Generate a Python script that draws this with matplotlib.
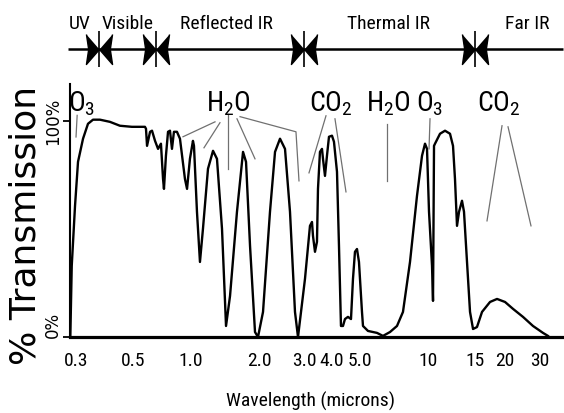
import numpy as np
import matplotlib
matplotlib.use("Agg")
import matplotlib.pyplot as plt
from matplotlib import font_manager as fm

# ---------------- data ----------------
wavelength = [0.28, 0.285, 0.2965, 0.307, 0.3246, 0.342, 0.3597, 0.384, 0.419, 0.454,
              0.496, 0.603, 0.612, 0.621, 0.647, 0.664, 0.690, 0.716, 0.741, 0.759,
              0.767, 0.784, 0.802, 0.819, 0.836, 0.853, 0.879, 0.905, 0.948, 0.966,
              0.991, 1.029, 1.044, 1.088, 1.132, 1.176, 1.25, 1.324, 1.382, 1.456,
              1.515, 1.574, 1.676, 1.765, 1.809, 1.868, 1.941, 1.985, 2.089, 2.244,
              2.356, 2.467, 2.578, 2.689, 2.8, 2.867, 3.036, 3.214, 3.286, 3.321,
              3.393, 3.464, 3.5, 3.571, 3.643, 3.679, 3.75, 3.821, 3.893, 4.0,
              4.071, 4.179, 4.25, 4.321, 4.393, 4.464, 4.571, 4.679, 4.75, 4.821,
              4.893, 4.964, 5.147, 5.221, 5.588, 6.25, 6.69, 7.206, 7.72, 8.16,
              8.676, 9.19, 9.559, 9.779, 9.926, 10.106, 10.426, 10.532, 10.638, 10.745,
              11.277, 11.809, 12.34, 12.66, 12.87, 13.085, 13.3, 13.617, 13.83, 14.15,
              14.47, 14.79, 15.33, 16.17, 17.5, 18.67, 20.0, 22.29, 25.14, 28.0,
              30.86, 32.29, 32.6]
transmission = [0.0, 32.9, 60.6, 81.0, 91.7, 98.6, 100.5, 100.5, 99.5, 97.7,
                97.2, 97.2, 96.3, 88.4, 94.9, 95.4, 90.7, 87.0, 89.4, 73.1,
                68.5, 83.8, 94.9, 95.4, 87.0, 94.9, 94.9, 91.7, 73.1, 68.5,
                82.4, 90.7, 88.4, 57.9, 34.7, 50.0, 77.8, 86.1, 82.4, 50.0,
                5.1, 19.0, 57.9, 85.6, 81.0, 42.1, 2.3, 0.0, 11.6, 57.9,
                85.6, 91.7, 87.0, 57.9, 11.6, 0.0, 26.9, 51.4, 53.2, 46.8,
                39.4, 44.0, 68.5, 85.6, 87.0, 82.4, 74.5, 83.8, 92.6, 93.1,
                90.3, 76.4, 42.1, 5.1, 5.1, 8.3, 9.3, 8.3, 26.9, 39.4,
                40.7, 34.7, 11.6, 5.1, 2.8, 1.9, 0.5, 2.3, 5.1, 11.6,
                34.7, 65.3, 83.8, 89.4, 87.0, 57.9, 32.9, 16.7, 88.4, 89.4,
                94.0, 95.4, 94.0, 88.4, 73.1, 51.4, 57.9, 63.0, 57.9, 34.7,
                11.6, 3.7, 4.6, 11.6, 16.2, 17.6, 16.2, 13.0, 9.3, 5.1,
                1.9, 0.5, 0.0]

tick_values = [0.3, 0.5, 1.0, 2.0, 3.0, 4.0, 5.0, 10, 15, 20, 30]
tick_labels = ["0.3", "0.5", "1.0", "2.0", "3.0", "4.0", "5.0", "10", "15", "20", "30"]

band_names = ["UV", "Visible", "Reflected IR", "Thermal IR", "Far IR"]
band_centers = [0.314, 0.482, 1.515, 7.13, 26.3]
band_edges = [0.38, 0.7, 3.0, 15.0]

molecules = ["O$_3$", "H$_2$O", "CO$_2$", "H$_2$O", "O$_3$", "CO$_2$"]
molecule_x = [0.321, 1.544, 3.96, 7.06, 10.21, 19.0]
molecule_baseline = 104.6

leader_lines = [
    [(0.304, 102.5), (0.300, 92.5)],
    [(1.353, 99.5), (0.931, 92.6)],
    [(1.426, 99.1), (1.191, 87.5)],
    [(1.544, 103.2), (1.544, 77.8)],
    [(1.676, 100.9), (1.941, 82.4)],
    [(1.721, 101.9), (2.822, 94.9), (2.889, 72.2)],
    [(3.786, 102.3), (3.179, 75.9)],
    [(4.107, 100.9), (4.5, 67.1)],
    [(6.985, 98.6), (6.985, 72.2)],
    [(10.213, 100.9), (10.106, 87.0)],
    [(19.5, 97.7), (17.0, 53.7)],
    [(20.86, 97.2), (27.43, 51.4)],
]

# ------------- axis layout (where each tick wavelength sits, as axis fraction) -------------
tick_frac = [0.0122, 0.1278, 0.2454, 0.3834, 0.4746, 0.5314, 0.5882,
             0.7262, 0.8215, 0.8824, 0.9533]
anchor_w = np.array([0.2] + tick_values + [40.0])
anchor_f = np.array([-0.0456] + tick_frac + [1.0243])


def fwd(w):
    return np.interp(np.asarray(w, dtype=float), anchor_w, anchor_f)


def inv(f):
    return np.interp(np.asarray(f, dtype=float), anchor_f, anchor_w)


def find_narrow():
    cands = [("Liberation Sans Narrow", "normal"), ("Roboto Condensed", "normal"),
             ("DejaVu Sans", "condensed"), ("Noto Sans", "condensed"),
             ("Open Sans", "condensed"), ("Roboto", "condensed"),
             ("Noto Sans", "semi-condensed"), ("Open Sans Condensed", "normal")]
    for fam, st in cands:
        try:
            f = fm.findfont(fm.FontProperties(family=fam, stretch=st),
                            fallback_to_default=False)
        except Exception:
            continue
        low = f.lower()
        if "narrow" in low or "condensed" in low:
            return fam, st, f
    return "Liberation Sans", "normal", "none"


NFAM, NSTRETCH, NFILE = find_narrow()
SZ = 1.0 if NFILE != "none" else 0.84
NPROP = dict(family=NFAM, stretch=NSTRETCH)
plt.rcParams["mathtext.default"] = "regular"

fig = plt.figure(figsize=(5.64, 4.14), dpi=100)
ax = fig.add_axes([70 / 564, 76 / 414, 493 / 564, 253 / 414])
ax.set_xscale("function", functions=(fwd, inv))
ax.set_xlim(float(inv(0.0)), float(inv(1.0)))
ax.set_ylim(0, 117)

ax.plot(wavelength, transmission, color="black", lw=1.7, solid_joinstyle="round")

for seg in leader_lines:
    xs, ys = zip(*seg)
    ax.plot(xs, ys, color="#707070", lw=0.9)

for name, x in zip(molecules, molecule_x):
    ax.text(x, molecule_baseline, name, ha="center", va="baseline",
            fontsize=20 * SZ, **NPROP)

# spines / ticks
for s in ["top", "right"]:
    ax.spines[s].set_visible(False)
ax.spines["left"].set_linewidth(1.5)
ax.spines["bottom"].set_linewidth(2.3)

ax.set_xticks(tick_values)
ax.set_xticklabels(tick_labels, fontsize=14 * SZ, **NPROP)
ax.xaxis.set_minor_locator(matplotlib.ticker.NullLocator())
ax.tick_params(axis="x", length=0, pad=10)

ax.set_yticks([0, 100])
ax.set_yticklabels(["0%", "100%"], rotation=90, fontsize=12, family="DejaVu Sans")
ax.yaxis.set_minor_locator(matplotlib.ticker.NullLocator())
ax.tick_params(axis="y", length=5, width=1.3, pad=1)
labs = ax.get_yticklabels()
labs[0].set_va("bottom")
labs[1].set_va("center")

ax.set_xlabel("Wavelength (microns)", fontsize=14 * SZ, **NPROP)
ax.xaxis.set_label_coords((311 - 70) / 493, -0.213)

fig.text(26 / 564, 1 - 225 / 414, "% Transmission", rotation=90, ha="center",
         va="center", fontsize=26, family="DejaVu Sans")

# spectral band bar at top
trans = ax.get_xaxis_transform()
bar_y = 1.138
ax.plot([-0.004, 1.0], [bar_y, bar_y], transform=ax.transAxes, color="black",
        lw=1.8, clip_on=False, solid_capstyle="butt")
left_tri = [(-0.87, 1.0), (-0.72, 0.0), (-0.87, -1.0), (0.0, 0.0)]
right_tri = [(0.87, 1.0), (0.72, 0.0), (0.87, -1.0), (0.0, 0.0)]
ax.plot(band_edges, [bar_y] * len(band_edges), transform=trans, ls="none",
        marker=left_tri, ms=21.6, color="black", clip_on=False)
ax.plot(band_edges, [bar_y] * len(band_edges), transform=trans, ls="none",
        marker=right_tri, ms=21.6, color="black", clip_on=False)
ax.plot(band_edges, [bar_y] * len(band_edges), transform=trans, ls="none",
        marker="|", ms=26, mew=1.2, color="black", clip_on=False)
for name, x in zip(band_names, band_centers):
    ax.text(x, 1.241, name, transform=trans, ha="center", va="center",
            fontsize=14 * SZ, **NPROP)

fig.savefig("out.png", dpi=100)
